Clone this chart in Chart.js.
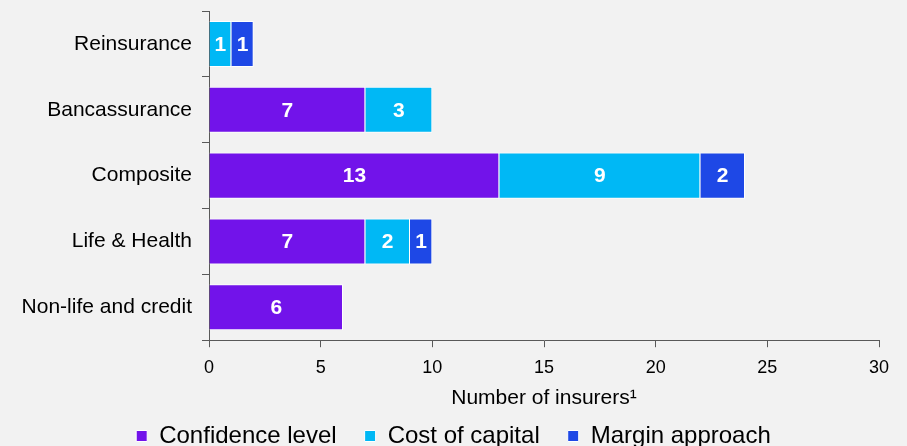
<!DOCTYPE html>
<html>
<head>
<meta charset="utf-8">
<script src="https://cdn.jsdelivr.net/npm/chart.js@4/dist/chart.umd.min.js"></script>
<style>
  html, body { margin: 0; padding: 0; background: #f2f2f2; overflow: hidden; }
  .wrap { width: 907px; height: 458px; position: relative; }
</style>
</head>
<body>
<div class="wrap"><canvas id="barChart"></canvas></div>
<script>
const categories = ['Reinsurance', 'Bancassurance', 'Composite', 'Life & Health', 'Non-life and credit'];
const confidenceLevel = [0, 7, 13, 7, 6];
const costOfCapital = [1, 3, 9, 2, 0];
const marginApproach = [1, 0, 2, 1, 0];
const xTicks = [0, 5, 10, 15, 20, 25, 30];

const FONT = 'Arial, "Liberation Sans", sans-serif';
const AXIS_GREY = '#595959';

// white numbers in the middle of each segment
const barLabels = {
  id: 'barLabels',
  afterDatasetsDraw(chart) {
    const ctx = chart.ctx;
    ctx.save();
    ctx.font = 'bold 21px ' + FONT;
    ctx.fillStyle = '#ffffff';
    ctx.textAlign = 'center';
    ctx.textBaseline = 'middle';
    chart.data.datasets.forEach((ds, i) => {
      const meta = chart.getDatasetMeta(i);
      meta.data.forEach((bar, j) => {
        const v = ds.data[j];
        if (!v) return;
        const cx = (bar.x + bar.base) / 2;
        ctx.fillText(String(v), cx, bar.y + 1);
      });
    });
    ctx.restore();
  },
};

const makeSet = (label, data, color) => ({
  label: label,
  data: data,
  backgroundColor: color,
  borderColor: '#ffffff',
  borderWidth: 1,
  categoryPercentage: 1,
  barPercentage: 0.7,
});

const ctx = document.getElementById('barChart').getContext('2d');
const myChart = new Chart(ctx, {
  type: 'bar',
  data: {
    labels: categories,
    datasets: [
      makeSet('Confidence level', confidenceLevel, '#7213ea'),
      makeSet('Cost of capital', costOfCapital, '#00b8f5'),
      makeSet('Margin approach', marginApproach, '#1e48e6'),
    ],
  },
  options: {
    indexAxis: 'y',
    responsive: true,
    maintainAspectRatio: false,
    animation: false,
    layout: { padding: { top: 11, right: 0, left: 0, bottom: 0 } },
    scales: {
      x: {
        stacked: true,
        min: 0,
        max: 30,
        afterBuildTicks: (scale) => {
          scale.ticks = xTicks.map((v) => ({ value: v }));
        },
        afterFit: (scale) => {
          scale.paddingRight = 28;
        },
        grid: {
          drawOnChartArea: false,
          tickLength: 7,
          color: AXIS_GREY,
        },
        border: { color: AXIS_GREY, width: 1 },
        ticks: {
          color: '#000',
          font: { family: FONT, size: 18 },
          padding: 10,
          maxRotation: 0,
        },
        title: {
          display: true,
          text: 'Number of insurers\u00b9',
          color: '#000',
          font: { family: FONT, size: 21 },
          padding: { top: -3, bottom: -15 },
        },
      },
      y: {
        stacked: true,
        afterFit: (scale) => {
          scale.width = 209;
          scale.paddingTop = 0;
          scale.paddingBottom = 0;
        },
        grid: {
          drawOnChartArea: false,
          tickLength: 7,
          color: AXIS_GREY,
        },
        border: { color: AXIS_GREY, width: 1 },
        ticks: {
          color: '#000',
          font: { family: FONT, size: 21 },
          padding: 10,
        },
      },
    },
    plugins: {
      tooltip: { enabled: false },
      legend: {
        position: 'bottom',
        labels: {
          color: '#000',
          font: { family: FONT, size: 24 },
          boxWidth: 11,
          boxHeight: 11,
          padding: 28,
        },
      },
    },
  },
  plugins: [barLabels],
});
</script>
</body>
</html>
